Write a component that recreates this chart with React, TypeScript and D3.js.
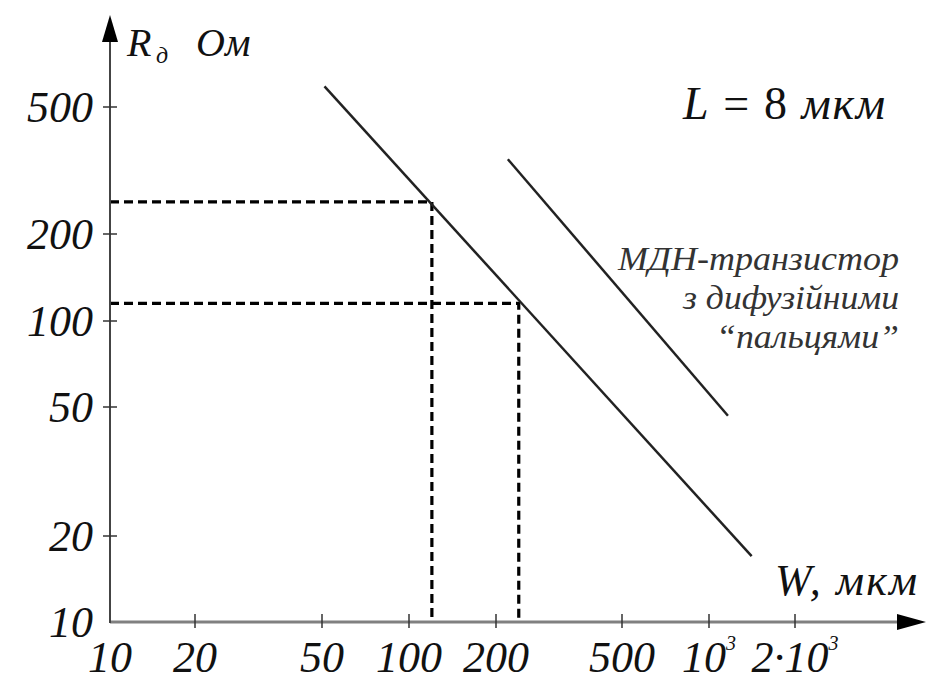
import * as d3 from 'd3';

// tick values and the labels printed under them
const xTicks = [10, 20, 50, 100, 200, 500, 1000, 2000];
const xTickLabels = ['10', '20', '50', '100', '200', '500', '10^3', '2·10^3'];
const yTicks = [10, 20, 50, 100, 200, 500];
const yTickLabels = ['10', '20', '50', '100', '200', '500'];

// R(W) for the plain transistor and the one with diffused "fingers"
const plainW = [51, 1410];
const plainR = [580, 17];
const fingerW = [218, 1165];
const fingerR = [343, 47];

// dashed read-off points on the plain line
const guideW = [120, 236];
const guideR = [252, 115];

const annotation = ['МДН-транзистор', 'з дифузійними', '“пальцями”'];

const width = 935;
const height = 692;
const font = "'Times New Roman', 'Liberation Serif', serif";

const App = () => {
  // the drawing's decades are hand-spaced, so pin each tick to where it sits
  const x = d3.scaleLog().domain(xTicks).range([110, 195, 322, 409, 496, 622, 709, 795]);
  const y = d3.scaleLog().domain(yTicks).range([622, 536, 407, 321, 234, 107]);

  const x0 = x(10);
  const y0 = y(10);

  const line = d3
    .line<number[]>()
    .x((d) => d[0])
    .y((d) => d[1]);

  const plainPts = plainW.map((w, i) => [x(w), y(plainR[i])]);
  const fingerPts = fingerW.map((w, i) => [x(w), y(fingerR[i])]);

  const italic = { fontFamily: font, fontStyle: 'italic' as const };
  const annoWidths = [281, 216, 183];

  return (
    <svg
      width={width}
      height={height}
      viewBox={`0 0 ${width} ${height}`}
      style={{ position: 'absolute', left: 0, top: 0, background: '#fff', fontFamily: font }}
    >
      {/* dashed guides */}
      {guideW.map((w, i) => (
        <path
          key={'g' + i}
          d={`M ${x0} ${y(guideR[i])} H ${x(w)} V ${y0}`}
          fill="none"
          stroke="#000"
          strokeWidth={3.2}
          strokeDasharray="9,5"
        />
      ))}

      {/* axes */}
      <line x1={x0} y1={y0} x2={900} y2={y0} stroke="#808080" strokeWidth={3} />
      <path d={`M 926 ${y0} L 897 ${y0 - 8} L 897 ${y0 + 8} Z`} fill="#000" />
      <line x1={x0} y1={y0 + 1} x2={x0} y2={38} stroke="#444" strokeWidth={2} />
      <path d={`M ${x0} 15 L ${x0 - 8} 42 L ${x0 + 8} 42 Z`} fill="#000" />

      {/* ticks */}
      {xTicks.slice(1).map((t) => (
        <line key={'xt' + t} x1={x(t)} x2={x(t)} y1={y0 - 8} y2={y0 + 6} stroke="#333" strokeWidth={1.5} />
      ))}
      {yTicks.slice(1).map((t) => (
        <line key={'yt' + t} x1={x0 - 7} x2={x0 + 7} y1={y(t)} y2={y(t)} stroke="#333" strokeWidth={1.5} />
      ))}

      {/* tick labels */}
      {xTicks.map((t, i) => {
        const [base, exp] = xTickLabels[i].split('^');
        return (
          <text key={'xl' + t} x={x(t)} y={672} textAnchor="middle" fontSize={44} fill="#111" style={italic}>
            {base}
            {exp && (
              <tspan fontSize={20} dy={-22}>
                {exp}
              </tspan>
            )}
          </text>
        );
      })}
      {yTicks.map((t, i) => (
        <text key={'yl' + t} x={93} y={y(t) + 15} textAnchor="end" fontSize={44} fill="#111" style={italic}>
          {yTickLabels[i]}
        </text>
      ))}

      {/* series */}
      <path d={line(plainPts) || ''} fill="none" stroke="#222" strokeWidth={2.5} />
      <path d={line(fingerPts) || ''} fill="none" stroke="#222" strokeWidth={2.5} />

      {/* axis titles */}
      <text x={127} y={56} fontSize={40} fill="#111" style={italic}>
        R
      </text>
      <text x={156} y={63} fontSize={24} fill="#111" style={italic}>
        д
      </text>
      <text x={196} y={56} fontSize={40} fill="#111" style={italic}>
        Ом
      </text>
      <text
        x={775}
        y={595}
        fontSize={44}
        fill="#111"
        textLength={142}
        lengthAdjust="spacing"
        style={italic}
      >
        W, мкм
      </text>

      <text
        x={683}
        y={119}
        fontSize={46}
        fill="#111"
        textLength={202}
        lengthAdjust="spacing"
        style={{ fontFamily: font }}
      >
        <tspan fontStyle="italic">L</tspan> = 8 <tspan fontStyle="italic">мкм</tspan>
      </text>

      {annotation.map((s, i) => (
        <text
          key={'a' + i}
          x={899}
          y={270 + i * 39}
          textAnchor="end"
          fontSize={33}
          fill="#333"
          textLength={annoWidths[i]}
          lengthAdjust="spacingAndGlyphs"
          style={italic}
        >
          {s}
        </text>
      ))}
    </svg>
  );
};

export default App;
